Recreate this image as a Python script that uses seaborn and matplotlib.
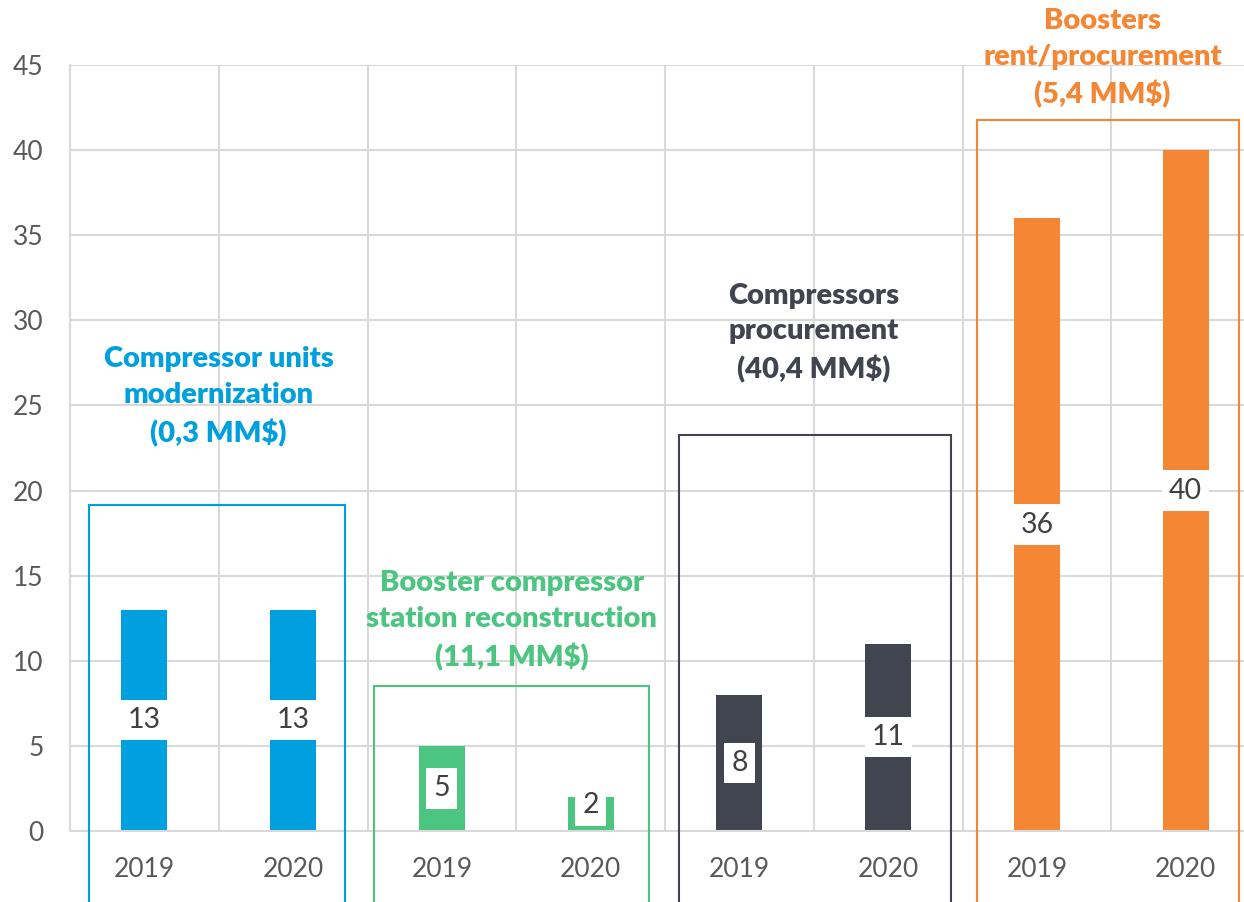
import matplotlib
matplotlib.use("Agg")
import matplotlib.pyplot as plt
import seaborn as sns
import pandas as pd
from matplotlib.patches import Rectangle

# ---- data ----
bar_ids = ["cu19", "cu20", "bc19", "bc20", "cp19", "cp20", "br19", "br20"]
years = ["2019", "2020", "2019", "2020", "2019", "2020", "2019", "2020"]
groups = ["cu", "cu", "bc", "bc", "cp", "cp", "br", "br"]
values = [13, 13, 5, 2, 8, 11, 36, 40]
group_keys = ["cu", "bc", "cp", "br"]
group_titles = ["Compressor units\nmodernization\n(0,3 MM$)",
                "Booster compressor\nstation reconstruction\n(11,1 MM$)",
                "Compressors\nprocurement\n(40,4 MM$)",
                "Boosters\nrent/procurement\n(5,4 MM$)"]
group_colors = {"cu": "#00A0DE", "bc": "#4CC581", "cp": "#40454F", "br": "#F58634"}

df = pd.DataFrame({"id": bar_ids, "year": years, "group": groups, "value": values})

sns.set_theme(style="white")
plt.rcParams["font.family"] = ["Lato", "DejaVu Sans"]

W, H = 1244, 902
fig = plt.figure(figsize=(W / 100, H / 100), dpi=100)
ax = fig.add_axes([70 / W, (H - 831) / H, (1260 - 70) / W, (831 - 65) / H])

sns.barplot(data=df, x="id", y="value", hue="group", palette=group_colors,
            order=bar_ids, hue_order=group_keys, dodge=False, width=0.31,
            legend=False, ax=ax, saturation=1, edgecolor="none")

ax.set_xlim(-0.5, 7.5)
ax.set_ylim(0, 45)
ax.set_yticks(range(0, 46, 5))
ax.set_xticks(range(8))
ax.set_xticklabels(years)
ax.set_xticks([i + 0.5 for i in range(-1, 8)], minor=True)
ax.set_xlabel("")
ax.set_ylabel("")
ax.tick_params(axis="both", which="both", length=0, labelsize=19, labelcolor="#595959")
ax.tick_params(axis="x", pad=19)
ax.tick_params(axis="y", pad=19)
ax.grid(False)
ax.yaxis.grid(True, color="#D9D9D9", lw=1.5)
ax.xaxis.grid(True, which="minor", color="#D9D9D9", lw=1.5)
ax.set_axisbelow(True)
for s in ["top", "right"]:
    ax.spines[s].set_visible(False)
ax.spines["left"].set_color("#D9D9D9")
ax.spines["bottom"].set_color("#D9D9D9")
ax.spines["left"].set_linewidth(1.5)
ax.spines["bottom"].set_linewidth(1.5)

# value labels
for i, v in enumerate(values):
    ax.text(i, max(v / 2, 1.5), str(v), ha="center", va="center", fontsize=20.5,
            color="#404040",
            bbox=dict(boxstyle="square,pad=0.25", fc="white", ec="none"), zorder=5)

# group boxes
boxes = {"cu": (-0.372, 1.348, 19.15), "bc": (1.543, 3.391, 8.52),
         "cp": (3.593, 5.421, 23.27), "br": (5.595, 7.356, 41.77)}
title_pos = {"cu": (0.5, 25.5), "bc": (2.47, 12.35), "cp": (4.5, 29.25), "br": (6.44, 45.4)}
for key, title in zip(group_keys, group_titles):
    x0, x1, top = boxes[key]
    ax.add_patch(Rectangle((x0, -10), x1 - x0, top + 10, fill=False,
                           ec=group_colors[key], lw=1.5, clip_on=False, zorder=4))
    tx, ty = title_pos[key]
    ax.text(tx, ty, title, ha="center", va="center", fontsize=21, fontweight="heavy",
            color=group_colors[key], linespacing=1.47, clip_on=False, zorder=6)

fig.savefig("out.png", dpi=100)
